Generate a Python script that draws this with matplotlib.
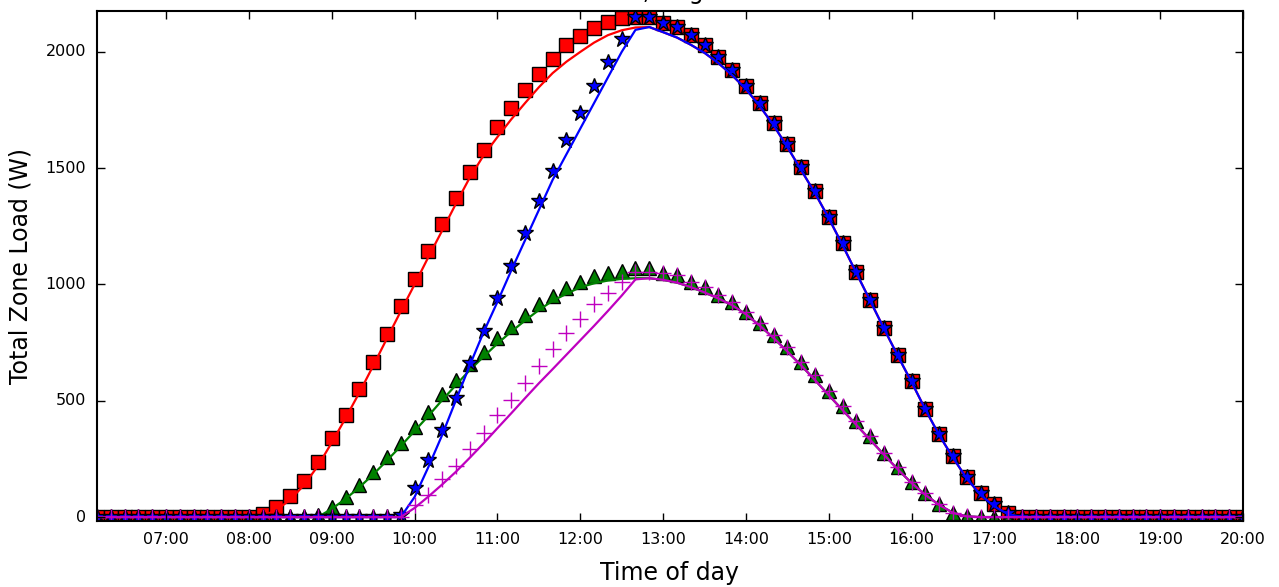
import numpy as np
import pandas as pd
import matplotlib
matplotlib.use('Agg')
import matplotlib.pyplot as plt
import matplotlib.dates as mdates

plt.style.use('classic')

# time axis: every 10 minutes, 06:10 .. 20:00
times = pd.date_range('2000-08-01 06:10', '2000-08-01 20:00', freq='10min')

# red squares
load_sq = [0, 0, 0, 0, 0, 0, 0, 0, 0, 0, 0, 0,
           15, 42, 92, 155, 238,
           338, 439, 550, 666, 787, 907,
           1023, 1144, 1260, 1371, 1483, 1580,
           1677, 1758, 1836, 1907, 1971, 2029,
           2068, 2105, 2128, 2145, 2150, 2150,
           2126, 2109, 2072, 2031, 1978, 1924,
           1853, 1780, 1694, 1606, 1505, 1402,
           1290, 1178, 1055, 933, 813, 696,
           585, 464, 357, 262, 172, 103,
           56, 17,
           0, 0, 0, 0, 0, 0, 0, 0, 0, 0, 0, 0, 0, 0, 0, 0, 0]

# blue stars
load_star = [0, 0, 0, 0, 0, 0, 0, 0, 0, 0, 0, 0, 0, 0, 0, 0, 0, 0, 0, 0, 0, 0,
             10,
             125, 245, 374, 512, 662, 800,
             942, 1079, 1221, 1359, 1488, 1621,
             1737, 1853, 1956, 2055, 2150, 2150,
             2126, 2109, 2072, 2031, 1978, 1924,
             1853, 1780, 1694, 1606, 1505, 1402,
             1290, 1178, 1055, 933, 813, 696,
             585, 464, 357, 262, 172, 103,
             56, 17,
             0, 0, 0, 0, 0, 0, 0, 0, 0, 0, 0, 0, 0, 0, 0, 0, 0]

# green triangles
load_tri = [0, 0, 0, 0, 0, 0, 0, 0, 0, 0, 0, 0, 0, 0, 0, 0,
            8,
            43, 86, 138, 195, 258, 320,
            386, 452, 528, 590, 658, 711,
            768, 817, 867, 915, 952, 985,
            1010, 1035, 1050, 1059, 1069, 1069,
            1049, 1040, 1010, 989, 956, 925,
            880, 834, 782, 731, 668, 610,
            542, 477, 412, 348, 277, 215,
            152, 103, 58, 17, 3,
            0, 0, 0, 0, 0, 0, 0, 0, 0, 0, 0, 0, 0, 0, 0, 0, 0, 0, 0, 0]

# magenta pluses
load_plus = [0, 0, 0, 0, 0, 0, 0, 0, 0, 0, 0, 0, 0, 0, 0, 0, 0, 0, 0, 0, 0, 0, 0,
             52, 95, 163, 219, 292, 361,
             440, 503, 576, 649, 722, 791,
             851, 916, 963, 1010, 1053, 1053,
             1049, 1040, 1010, 989, 956, 925,
             880, 834, 782, 731, 668, 610,
             542, 477, 412, 348, 277, 215,
             152, 103, 58, 17, 3,
             0, 0, 0, 0, 0, 0, 0, 0, 0, 0, 0, 0, 0, 0, 0, 0, 0, 0, 0, 0]

# red line
line_red = [0, 0, 0, 0, 0, 0, 0, 0, 0, 0, 0, 0,
            5, 30, 75, 138, 220,
            320, 425, 535, 650, 768, 885,
            1000, 1118, 1232, 1348, 1460, 1555,
            1634, 1710, 1780, 1848, 1909, 1958,
            2000, 2040, 2072, 2093, 2105, 2107,
            2085, 2062, 2031, 1996, 1952, 1900,
            1840, 1767, 1685, 1591, 1492, 1393,
            1285, 1169, 1049, 930, 810, 693,
            580, 462, 352, 255, 165, 95,
            45, 12,
            0, 0, 0, 0, 0, 0, 0, 0, 0, 0, 0, 0, 0, 0, 0, 0, 0]

# blue line
line_blue = [0, 0, 0, 0, 0, 0, 0, 0, 0, 0, 0, 0, 0, 0, 0, 0, 0, 0, 0, 0, 0, 0, 0,
             86, 215, 353, 503, 653, 795,
             925, 1060, 1190, 1320, 1450, 1560,
             1670, 1780, 1890, 2000, 2095, 2107,
             2085, 2062, 2031, 1996, 1952, 1900,
             1840, 1767, 1685, 1591, 1492, 1393,
             1285, 1169, 1049, 930, 810, 693,
             580, 462, 352, 255, 165, 95,
             45, 12,
             0, 0, 0, 0, 0, 0, 0, 0, 0, 0, 0, 0, 0, 0, 0, 0, 0]

# green line
line_green = [0, 0, 0, 0, 0, 0, 0, 0, 0, 0, 0, 0, 0, 0, 0, 0, 0,
              35, 78, 128, 183, 243, 305,
              370, 435, 503, 568, 632, 690,
              746, 797, 845, 890, 930, 960,
              988, 1005, 1017, 1024, 1027, 1027,
              1020, 1008, 989, 966, 940, 911,
              872, 823, 770, 712, 652, 589,
              524, 460, 396, 332, 268, 205,
              146, 95, 52, 18, 3,
              0, 0, 0, 0, 0, 0, 0, 0, 0, 0, 0, 0, 0, 0, 0, 0, 0, 0, 0, 0]

# magenta line
line_mag = [0, 0, 0, 0, 0, 0, 0, 0, 0, 0, 0, 0, 0, 0, 0, 0, 0, 0, 0, 0, 0, 0, 0,
            39, 88, 140, 195, 255, 317,
            382, 446, 511, 575, 636, 698,
            760, 822, 886, 952, 1022, 1027,
            1020, 1008, 989, 966, 940, 911,
            872, 823, 770, 712, 652, 589,
            524, 460, 396, 332, 268, 205,
            146, 95, 52, 18, 3,
            0, 0, 0, 0, 0, 0, 0, 0, 0, 0, 0, 0, 0, 0, 0, 0, 0, 0, 0, 0]

fig = plt.figure(figsize=(12.79, 5.87), dpi=100, facecolor='white')
ax = fig.add_axes([97/1279., 1 - 521/587., 1146/1279., 510/587.])

ms = 10
ax.plot(times, load_sq, 's', color='r', mec='k', ms=ms, mew=1)
ax.plot(times, line_red, '-', color='r', lw=1.6)
ax.plot(times, load_tri, '^', color='g', mec='k', ms=ms, mew=1)
ax.plot(times, line_green, '-', color='g', lw=1.6)
ax.plot(times, load_star, '*', color='b', mec='k', ms=ms+2, mew=1)
ax.plot(times, line_blue, '-', color='b', lw=1.6)
ax.plot(times, load_plus, '+', color='m', ms=ms+1, mew=1)
ax.plot(times, line_mag, '-', color='m', lw=1.6)

ax.set_xlim(pd.Timestamp('2000-08-01 06:10'), pd.Timestamp('2000-08-01 20:00'))
ax.set_ylim(-17, 2176)
ax.set_yticks([0, 500, 1000, 1500, 2000])
ax.xaxis.set_major_locator(mdates.HourLocator(byhour=range(7, 21)))
ax.xaxis.set_major_formatter(mdates.DateFormatter('%H:%M'))
ax.tick_params(axis='both', which='major', labelsize=11.5, direction='in', length=6, width=1)
ax.tick_params(axis='x', pad=8)
ax.tick_params(axis='y', pad=8)
for sp in ax.spines.values():
    sp.set_linewidth(1.5)

ax.set_xlabel('Time of day', fontsize=17)
ax.set_ylabel('Total Zone Load (W)', fontsize=17)
ax.xaxis.set_label_coords(0.5, -0.078)
ax.yaxis.set_label_coords(-0.056, 0.5)

# title sits mostly above the canvas, only the descenders show
fig.text(525/1279., 1 + 1.5/587., 'Zone load, Aug 1', fontsize=17, ha='left', va='baseline')

fig.savefig('out.png', dpi=100, facecolor='white')
